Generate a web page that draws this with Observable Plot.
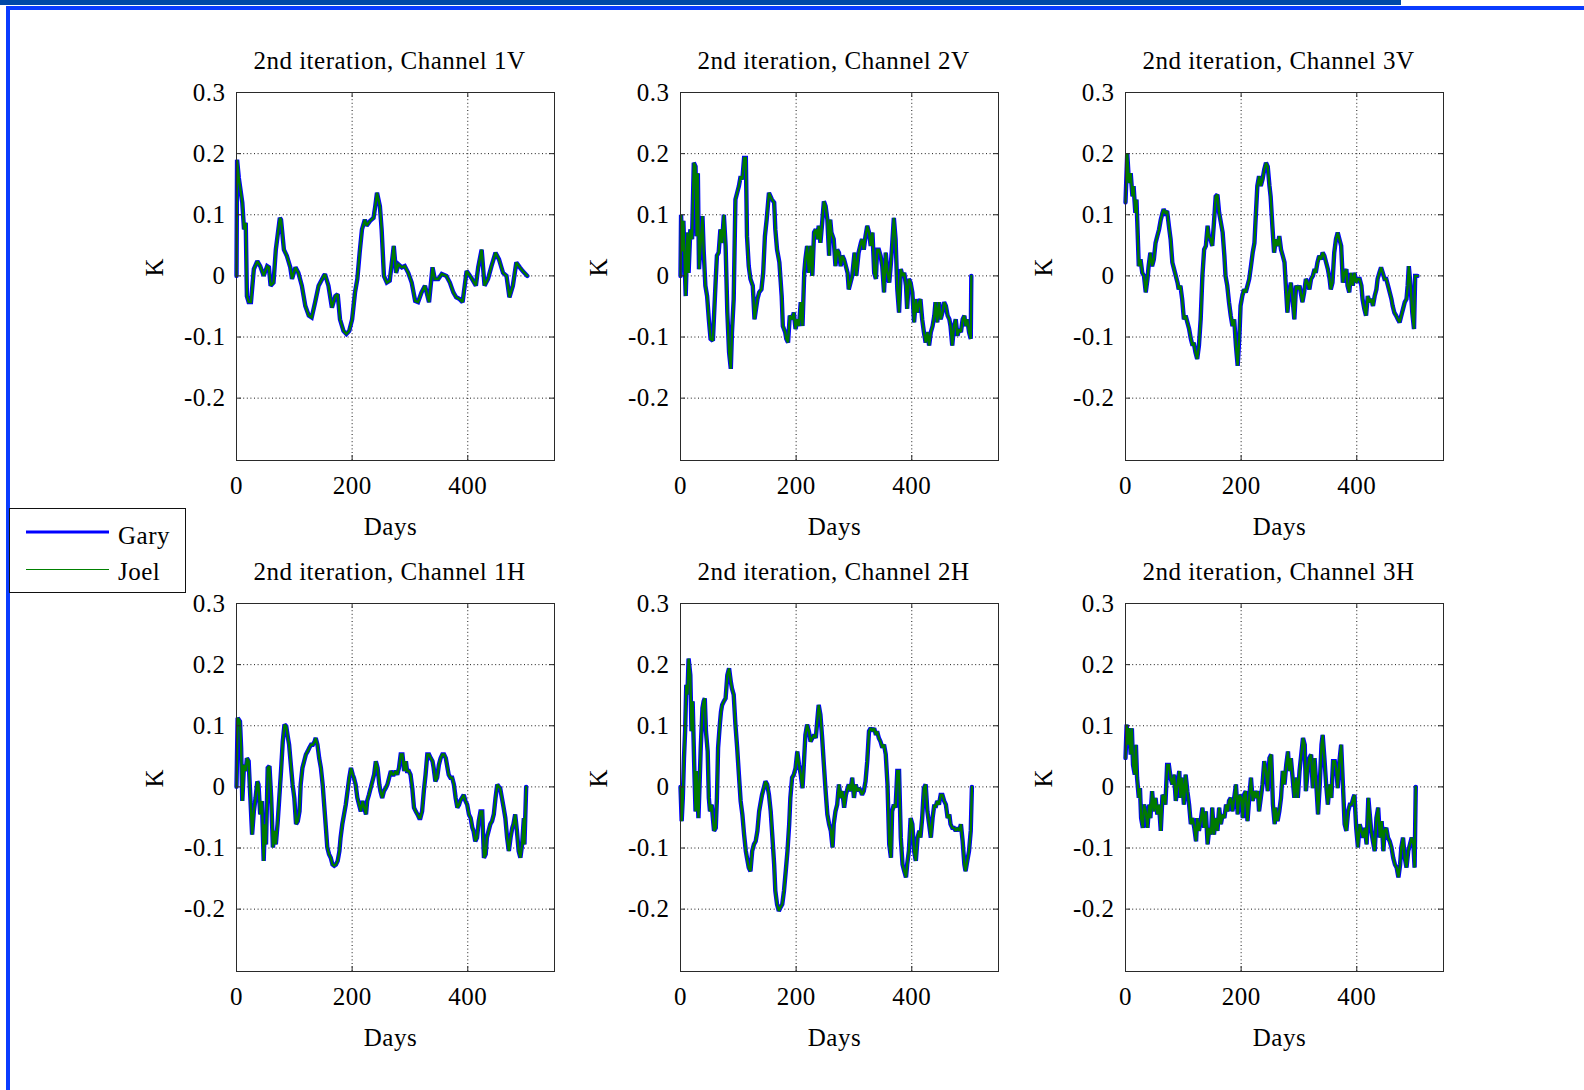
<!DOCTYPE html>
<html><head><meta charset="utf-8">
<script src="https://cdn.jsdelivr.net/npm/d3@7"></script>
<script src="https://cdn.jsdelivr.net/npm/@observablehq/plot@0.6"></script>
<style>
html,body{margin:0;padding:0;background:#fff;}
#page{position:relative;width:1584px;height:1090px;overflow:hidden;background:#fff;font-family:"Liberation Serif",serif;}
.panel{position:absolute;}
.bar1{position:absolute;left:0;top:0;width:1401px;height:5px;background:#0049a8;}
.bar2{position:absolute;left:6px;top:6px;right:0;height:4px;background:#0a3cff;}
.bar3{position:absolute;left:6px;top:6px;width:4px;bottom:0;background:#0a3cff;}
#legend{position:absolute;left:9px;top:508px;width:175px;height:83px;border:1px solid #111;background:#fff;}
</style></head><body><div id="page">
<div class="bar1"></div><div class="bar2"></div><div class="bar3"></div>
</div>
<script>
// ---- data: [day, K] (Gary and Joel traces coincide) ----
const ch1V = [[0,0],[1,0.19],[4,0.16],[10,0.12],[13,0.076],[16,0.087],[18,-0.033],[21,-0.043],[25,-0.043],[30,0.011],[36,0.024],[41,0.016],[47,0],[53,0.016],[56,0.014],[59,-0.016],[64,-0.011],[68,0.043],[75,0.095],[77,0.092],[82,0.043],[87,0.033],[93,0.014],[96,-0.005],[102,0.014],[107,0.005],[113,-0.016],[119,-0.049],[125,-0.065],[130,-0.068],[136,-0.043],[142,-0.016],[151,0],[153,0.003],[159,-0.016],[165,-0.052],[171,-0.033],[175,-0.03],[179,-0.071],[185,-0.09],[190,-0.095],[195,-0.09],[200,-0.071],[205,-0.027],[209,-0.005],[213,0.038],[217,0.076],[222,0.092],[225,0.082],[231,0.09],[237,0.095],[240,0.114],[243,0.136],[248,0.114],[251,0.076],[255,0],[260,-0.011],[265,-0.008],[268,0.016],[272,0.049],[276,0.005],[280,0.019],[286,0.014],[291,0.016],[297,0.005],[303,-0.011],[309,-0.041],[314,-0.043],[320,-0.027],[326,-0.016],[333,-0.043],[339,0.014],[343,-0.005],[349,-0.005],[355,0.003],[363,0],[369,-0.011],[375,-0.027],[380,-0.035],[386,-0.038],[391,-0.043],[398,0.008],[406,-0.003],[414,-0.016],[418,0.014],[424,0.043],[429,-0.016],[435,-0.005],[441,0.016],[448,0.038],[454,0.027],[461,0.005],[467,0],[472,-0.035],[478,-0.016],[484,0.022],[490,0.014],[495,0.008],[503,0]];
const ch2V = [[0,0],[1,0.1],[3,0.04],[5,0.09],[9,-0.033],[12,0.071],[14,0.005],[17,0.076],[20,0.06],[23,0.185],[26,0.179],[28,0.065],[30,0.168],[32,0.011],[35,0.054],[38,0.098],[40,0.043],[43,-0.016],[46,-0.033],[49,-0.071],[52,-0.103],[56,-0.106],[58,-0.065],[61,-0.005],[63,0.033],[66,0.038],[69,0.076],[72,0.054],[75,0.1],[78,0.049],[81,-0.06],[84,-0.125],[87,-0.152],[89,-0.092],[92,-0.038],[95,0.125],[98,0.136],[101,0.147],[104,0.163],[107,0.158],[110,0.193],[113,0.193],[115,0.065],[118,0.016],[121,-0.005],[125,-0.016],[128,-0.071],[133,-0.038],[136,-0.027],[140,-0.022],[143,0.005],[146,0.065],[149,0.092],[153,0.136],[158,0.125],[162,0.12],[164,0.076],[167,0.043],[171,0.022],[175,-0.033],[177,-0.082],[181,-0.092],[183,-0.103],[186,-0.109],[189,-0.065],[193,-0.071],[196,-0.06],[199,-0.087],[202,-0.071],[205,-0.082],[208,-0.043],[211,-0.082],[214,0.005],[216,0.027],[219,0.049],[222,0.005],[225,0.049],[228,0],[231,0.071],[234,0.076],[237,0.06],[239,0.082],[242,0.054],[245,0.087],[248,0.122],[251,0.114],[254,0.092],[257,0.033],[259,0.092],[261,0.071],[265,0.06],[268,0.016],[271,0.043],[274,0.038],[277,0.016],[280,0.033],[283,0.027],[286,0.016],[289,0.005],[291,-0.022],[294,-0.011],[297,0],[301,0.038],[304,0],[308,0.038],[312,0.054],[314,0.06],[317,0.043],[320,0.065],[323,0.082],[326,0.071],[329,0.049],[332,0.071],[335,0.005],[338,-0.005],[340,0.043],[343,0.043],[346,0.033],[349,0.016],[352,-0.027],[355,0.038],[358,0.005],[361,-0.011],[364,0.022],[366,0.049],[369,0.095],[372,0.06],[375,-0.022],[378,-0.06],[381,0.011],[384,0],[387,0.005],[390,-0.016],[392,-0.054],[395,-0.005],[398,-0.011],[401,-0.027],[404,-0.076],[407,-0.038],[410,-0.06],[413,-0.043],[415,-0.038],[418,-0.071],[421,-0.092],[424,-0.109],[427,-0.092],[430,-0.114],[433,-0.092],[436,-0.082],[439,-0.065],[441,-0.043],[444,-0.076],[447,-0.043],[450,-0.071],[453,-0.06],[456,-0.043],[459,-0.049],[462,-0.065],[465,-0.071],[467,-0.082],[470,-0.114],[473,-0.082],[476,-0.071],[479,-0.098],[482,-0.087],[485,-0.092],[488,-0.071],[491,-0.065],[493,-0.082],[496,-0.071],[499,-0.092],[502,-0.103],[503,0]];
const ch3V = [[0,0.12],[3,0.201],[6,0.152],[9,0.168],[12,0.13],[14,0.147],[17,0.103],[19,0.125],[21,0.071],[23,0.016],[26,0.027],[29,0.005],[32,0],[35,-0.027],[38,-0.005],[40,0.016],[43,0.038],[46,0.016],[49,0.027],[52,0.054],[55,0.065],[58,0.076],[61,0.092],[64,0.103],[66,0.109],[69,0.103],[72,0.106],[75,0.082],[78,0.06],[81,0.022],[84,0.011],[87,0],[90,-0.011],[92,-0.022],[95,-0.016],[98,-0.038],[101,-0.071],[104,-0.065],[107,-0.076],[110,-0.087],[113,-0.103],[116,-0.114],[118,-0.109],[121,-0.125],[124,-0.136],[127,-0.114],[130,-0.071],[133,0],[136,0.043],[139,0.049],[142,0.082],[144,0.065],[147,0.06],[150,0.049],[153,0.087],[156,0.13],[159,0.133],[162,0.103],[165,0.087],[168,0.071],[171,0.033],[173,0],[176,-0.016],[179,-0.043],[182,-0.065],[185,-0.082],[188,-0.071],[191,-0.114],[194,-0.147],[197,-0.098],[199,-0.049],[202,-0.033],[205,-0.022],[208,-0.027],[211,-0.016],[214,-0.005],[217,0.016],[220,0.038],[223,0.054],[225,0.092],[228,0.147],[231,0.163],[234,0.147],[237,0.158],[240,0.174],[243,0.185],[246,0.179],[249,0.147],[251,0.13],[254,0.082],[257,0.038],[260,0.06],[263,0.049],[266,0.065],[269,0.043],[272,0.033],[275,0.022],[277,-0.011],[280,-0.06],[283,-0.027],[286,-0.011],[289,-0.038],[292,-0.071],[295,-0.016],[298,-0.022],[301,-0.016],[303,-0.027],[306,-0.043],[309,-0.027],[312,-0.005],[315,-0.011],[318,-0.022],[321,-0.005],[324,0],[327,0.011],[329,0.005],[332,0.022],[335,0.033],[338,0.027],[341,0.038],[344,0.033],[347,0.022],[350,0.011],[353,-0.005],[355,-0.022],[358,-0.011],[361,0.038],[364,0.06],[367,0.071],[370,0.06],[373,0.049],[376,-0.011],[379,0.005],[382,0.011],[384,-0.016],[387,-0.027],[390,0.005],[393,-0.016],[396,0.005],[399,-0.011],[402,-0.005],[405,-0.005],[408,-0.016],[410,-0.038],[413,-0.054],[416,-0.065],[419,-0.033],[422,-0.043],[425,-0.038],[428,-0.049],[431,-0.033],[434,-0.022],[436,-0.005],[439,0.005],[442,0.014],[445,0.005],[448,-0.005],[451,-0.005],[454,-0.016],[457,-0.027],[460,-0.038],[462,-0.049],[465,-0.06],[468,-0.065],[471,-0.071],[474,-0.076],[477,-0.065],[480,-0.054],[483,-0.043],[486,-0.038],[488,-0.016],[490,0.016],[493,-0.016],[496,-0.06],[499,-0.087],[501,0],[505,0]];
const ch1H = [[0,0],[2,0.113],[6,0.107],[8,0.064],[10,-0.023],[13,0.036],[16,0.026],[18,0.047],[21,0.042],[24,-0.018],[27,-0.078],[30,-0.04],[33,-0.018],[36,0.009],[38,0.004],[41,-0.045],[44,-0.023],[47,-0.121],[49,-0.061],[51,-0.094],[54,0.031],[57,0.034],[60,-0.018],[63,-0.099],[66,-0.072],[68,-0.094],[71,-0.061],[74,-0.018],[77,0.026],[80,0.074],[83,0.102],[86,0.099],[89,0.08],[91,0.069],[94,0.036],[97,0.004],[100,-0.018],[103,-0.061],[106,-0.056],[109,-0.04],[111,0.004],[114,0.031],[117,0.042],[120,0.053],[123,0.058],[126,0.064],[129,0.069],[132,0.069],[135,0.074],[137,0.08],[140,0.069],[143,0.047],[146,0.031],[149,0.004],[152,-0.034],[155,-0.072],[157,-0.099],[160,-0.11],[163,-0.116],[166,-0.127],[169,-0.129],[172,-0.127],[175,-0.121],[178,-0.105],[180,-0.083],[183,-0.061],[186,-0.045],[189,-0.029],[192,-0.007],[195,0.015],[198,0.031],[201,0.02],[203,0.015],[206,0.004],[209,-0.018],[212,-0.029],[215,-0.04],[218,-0.023],[221,-0.034],[224,-0.045],[226,-0.023],[229,-0.013],[232,-0.002],[235,0.009],[238,0.02],[241,0.042],[244,0.031],[247,0.004],[249,-0.007],[252,-0.018],[255,-0.007],[258,-0.002],[261,0.004],[264,0.015],[267,0.026],[270,0.02],[272,0.02],[275,0.026],[278,0.02],[281,0.031],[284,0.053],[287,0.053],[290,0.026],[293,0.042],[295,0.026],[298,0.026],[301,0.02],[304,-0.002],[307,-0.034],[310,-0.04],[313,-0.045],[316,-0.051],[318,-0.051],[321,-0.04],[324,-0.007],[327,0.02],[330,0.053],[333,0.053],[336,0.047],[339,0.042],[341,0.031],[344,0.009],[347,0.015],[350,0.036],[353,0.047],[356,0.053],[359,0.053],[362,0.047],[364,0.036],[367,0.02],[370,0.015],[373,0.015],[376,0.004],[379,-0.018],[382,-0.034],[385,-0.029],[387,-0.023],[390,-0.018],[393,-0.013],[396,-0.023],[399,-0.029],[402,-0.045],[405,-0.051],[408,-0.067],[410,-0.072],[413,-0.089],[416,-0.083],[419,-0.056],[422,-0.04],[425,-0.04],[428,-0.116],[431,-0.11],[433,-0.083],[436,-0.072],[439,-0.061],[442,-0.056],[445,-0.045],[448,-0.018],[451,0.004],[453,0.001],[456,-0.002],[459,-0.018],[462,-0.034],[465,-0.051],[468,-0.083],[471,-0.105],[474,-0.083],[477,-0.067],[479,-0.061],[482,-0.045],[485,-0.072],[488,-0.105],[491,-0.116],[494,-0.094],[497,-0.051],[498,-0.094],[501,0]];
const ch2H = [[0,0],[2,-0.056],[4,-0.018],[6,0.047],[8,0.091],[10,0.167],[12,0.151],[14,0.21],[17,0.183],[19,0.091],[21,0.14],[24,0.026],[26,-0.04],[28,0.026],[31,-0.051],[33,0.004],[35,0.064],[38,0.129],[40,0.14],[42,0.145],[44,0.091],[47,0.058],[49,-0.018],[51,-0.04],[54,-0.029],[56,-0.051],[58,-0.072],[61,-0.067],[63,-0.018],[65,0.064],[68,0.102],[70,0.123],[72,0.134],[75,0.14],[78,0.145],[81,0.183],[84,0.194],[87,0.172],[89,0.161],[92,0.151],[95,0.102],[98,0.064],[101,0.02],[104,-0.023],[107,-0.045],[110,-0.078],[113,-0.105],[115,-0.116],[118,-0.132],[121,-0.138],[124,-0.105],[127,-0.094],[130,-0.089],[133,-0.072],[136,-0.04],[138,-0.029],[141,-0.013],[144,-0.002],[147,0.009],[150,0.004],[153,-0.013],[156,-0.04],[159,-0.083],[162,-0.127],[164,-0.17],[167,-0.192],[170,-0.203],[173,-0.197],[176,-0.192],[179,-0.17],[182,-0.138],[185,-0.105],[188,-0.061],[190,-0.018],[193,0.015],[196,0.02],[199,0.031],[202,0.058],[205,0.036],[208,0.02],[211,-0.002],[213,0.031],[216,0.085],[219,0.102],[222,0.091],[225,0.074],[228,0.08],[231,0.085],[234,0.08],[237,0.113],[239,0.134],[242,0.118],[245,0.08],[248,0.036],[251,-0.007],[254,-0.045],[257,-0.061],[260,-0.072],[263,-0.099],[265,-0.061],[268,-0.04],[271,-0.029],[274,0.004],[277,-0.018],[280,-0.007],[283,-0.034],[286,-0.013],[289,-0.002],[291,0.004],[294,-0.007],[297,0.015],[300,-0.018],[303,0.004],[306,-0.007],[309,-0.002],[312,-0.007],[314,-0.013],[317,-0.007],[320,0.009],[323,0.042],[326,0.091],[329,0.096],[332,0.091],[335,0.096],[338,0.085],[340,0.091],[343,0.08],[346,0.074],[349,0.064],[352,0.069],[355,0.053],[358,0.004],[361,-0.094],[364,-0.116],[366,-0.04],[369,-0.029],[372,-0.034],[375,0.026],[378,0.026],[381,-0.083],[384,-0.127],[387,-0.138],[390,-0.148],[392,-0.127],[395,-0.105],[398,-0.051],[401,-0.061],[404,-0.105],[407,-0.121],[410,-0.083],[413,-0.072],[415,-0.083],[418,-0.051],[421,-0.002],[424,0.004],[427,-0.04],[430,-0.061],[433,-0.083],[436,-0.051],[439,-0.029],[441,-0.034],[444,-0.023],[447,-0.029],[450,-0.013],[453,-0.013],[456,-0.023],[459,-0.029],[462,-0.051],[465,-0.045],[467,-0.061],[470,-0.067],[473,-0.067],[476,-0.072],[479,-0.067],[482,-0.072],[485,-0.061],[488,-0.089],[491,-0.127],[493,-0.138],[496,-0.121],[499,-0.105],[502,-0.072],[504,0]];
const ch3H = [[0,0.047],[2,0.102],[4,0.069],[6,0.096],[9,0.053],[11,0.096],[13,0.036],[16,0.02],[18,0.069],[20,0.015],[23,-0.018],[25,-0.002],[27,-0.051],[30,-0.067],[32,-0.029],[35,-0.04],[38,-0.067],[41,-0.029],[43,-0.051],[46,-0.007],[49,-0.04],[52,-0.018],[55,-0.045],[58,-0.029],[61,-0.072],[64,-0.013],[67,-0.018],[69,-0.029],[72,0.036],[75,0.036],[78,0.015],[81,0.004],[84,0.02],[87,-0.023],[90,0.004],[93,0.026],[95,-0.018],[98,0.015],[101,-0.029],[104,0.02],[107,-0.007],[110,-0.029],[113,-0.061],[116,-0.051],[119,-0.067],[122,-0.089],[124,-0.051],[127,-0.072],[130,-0.056],[133,-0.034],[136,-0.067],[139,-0.04],[142,-0.094],[145,-0.067],[148,-0.078],[150,-0.034],[153,-0.078],[156,-0.051],[159,-0.072],[162,-0.034],[165,-0.061],[168,-0.045],[171,-0.051],[174,-0.029],[177,-0.04],[179,-0.023],[182,-0.018],[185,-0.04],[188,-0.018],[191,0.004],[194,-0.045],[197,-0.013],[200,-0.018],[203,-0.051],[205,-0.013],[208,-0.007],[211,-0.056],[214,-0.018],[217,0.015],[220,-0.023],[223,-0.007],[226,-0.018],[229,-0.007],[231,-0.04],[234,-0.018],[237,0.004],[240,0.042],[243,0.026],[246,-0.007],[249,0.047],[252,0.053],[255,-0.029],[258,-0.061],[260,-0.034],[263,-0.056],[266,-0.04],[269,-0.018],[272,0.026],[275,0.004],[278,0.036],[281,0.058],[283,0.026],[286,0.047],[289,0.015],[292,-0.018],[295,0.015],[298,-0.018],[301,0.026],[304,0.053],[307,0.08],[310,0.069],[312,-0.007],[315,0.026],[318,0.047],[321,0.053],[324,-0.002],[327,0.047],[330,0.004],[333,-0.045],[336,0.004],[339,0.069],[341,0.085],[344,0.047],[347,0.004],[350,-0.029],[353,0.004],[356,-0.018],[359,0.042],[362,0.042],[365,0.026],[367,-0.002],[370,0.042],[373,0.069],[376,0.004],[379,-0.061],[382,-0.072],[385,-0.04],[388,-0.029],[391,-0.029],[394,-0.018],[396,-0.013],[399,-0.067],[402,-0.099],[405,-0.061],[408,-0.072],[411,-0.083],[414,-0.067],[417,-0.094],[420,-0.018],[422,-0.04],[425,-0.072],[428,-0.089],[431,-0.105],[434,-0.051],[437,-0.034],[440,-0.083],[443,-0.056],[446,-0.105],[448,-0.072],[451,-0.067],[454,-0.083],[457,-0.089],[460,-0.099],[463,-0.116],[466,-0.127],[469,-0.132],[472,-0.148],[475,-0.127],[477,-0.099],[480,-0.083],[483,-0.116],[486,-0.132],[489,-0.105],[492,-0.094],[495,-0.083],[498,-0.094],[500,-0.132],[502,0]];

const titles = ["2nd iteration, Channel 1V","2nd iteration, Channel 2V","2nd iteration, Channel 3V",
                "2nd iteration, Channel 1H","2nd iteration, Channel 2H","2nd iteration, Channel 3H"];
const garySeries = [ch1V, ch2V, ch3V, ch1H, ch2H, ch3H];
const joelSeries = [ch1V, ch2V, ch3V, ch1H, ch2H, ch3H]; // visually identical to Gary
const xTicks = [0, 200, 400];
const yTicks = [-0.2, -0.1, 0, 0.1, 0.2, 0.3];
const xGrid = [200, 400];
const yGrid = [-0.2, -0.1, 0, 0.1, 0.2];
const xDomain = [0, 550];
const yDomain = [-0.302, 0.3];
const seriesNames = ["Gary", "Joel"];

// ---- layout ----
const W = 318, H = 368, mL = 110, mR = 12, mT = 60, mB = 90;
const colLeft = [236, 680, 1125], rowTop = [92, 603];
const fmtY = d => d === 0 ? "0" : d.toFixed(1);
const FONT = '"Liberation Serif", "Times New Roman", serif';
const page = document.getElementById("page");

garySeries.forEach((gary, i) => {
  const joel = joelSeries[i];
  const svg = Plot.plot({
    width: mL + W + mR, height: mT + H + mB,
    marginLeft: mL, marginRight: mR, marginTop: mT, marginBottom: mB,
    style: {fontFamily: FONT, fontSize: "25px", color: "#000", background: "transparent", overflow: "visible", letterSpacing: "0.5px"},
    x: {domain: xDomain},
    y: {domain: yDomain},
    marks: [
      Plot.gridY(yGrid, {stroke: "#000", strokeOpacity: 0.9, strokeDasharray: "1,2.6", strokeWidth: 1}),
      Plot.gridX(xGrid, {stroke: "#000", strokeOpacity: 0.9, strokeDasharray: "1,2.6", strokeWidth: 1}),
      Plot.line(gary, {x: d => d[0], y: d => d[1], stroke: "#0000ff", strokeWidth: 4.4, strokeLinejoin: "miter", strokeMiterlimit: 2}),
      Plot.line(joel, {x: d => d[0], y: d => d[1], stroke: "#007a00", strokeWidth: 2.4, strokeLinejoin: "miter", strokeMiterlimit: 2}),
      Plot.frame({stroke: "#2a2a2a", strokeWidth: 1}),
      Plot.tickY(yTicks, {y: d => d, insetRight: W - 5, stroke: "#2a2a2a"}),
      Plot.tickY(yTicks, {y: d => d, insetLeft: W - 5, stroke: "#2a2a2a"}),
      Plot.tickX(xTicks, {x: d => d, insetTop: H - 5, stroke: "#2a2a2a"}),
      Plot.tickX(xTicks, {x: d => d, insetBottom: H - 5, stroke: "#2a2a2a"}),
      Plot.axisY(yTicks, {tickSize: 0, tickPadding: 11, tickFormat: fmtY, label: null, fontSize: 25, fill: "#000"}),
      Plot.axisX(xTicks, {tickSize: 0, tickPadding: 16, tickFormat: d => String(d), label: null, fontSize: 25, fill: "#000"}),
      Plot.text([titles[i]], {frameAnchor: "top", dy: -24, dx: -6, lineAnchor: "bottom", fontSize: 25, fill: "#000"}),
      Plot.text(["Days"], {frameAnchor: "bottom", dy: 74, dx: -5, lineAnchor: "bottom", fontSize: 25, fill: "#000"}),
      Plot.text(["K"], {frameAnchor: "left", dx: -82, rotate: -90, fontSize: 25, fill: "#000"})
    ]
  });
  const wrap = document.createElement("div");
  wrap.className = "panel";
  wrap.style.left = (colLeft[i % 3] - mL) + "px";
  wrap.style.top = (rowTop[Math.floor(i / 3)] - mT) + "px";
  wrap.appendChild(svg);
  page.appendChild(wrap);
});

// ---- legend ----
const leg = document.createElement("div");
leg.id = "legend";
leg.innerHTML = `<svg width="175" height="83" style="font-family:${FONT.replace(/"/g,"'")};font-size:25px;letter-spacing:0.5px">
  <line x1="16" x2="99" y1="23" y2="23" stroke="#0000ff" stroke-width="3.2"/>
  <text x="108" y="35" fill="#000">${seriesNames[0]}</text>
  <line x1="16" x2="99" y1="60.5" y2="60.5" stroke="#008000" stroke-width="1.2"/>
  <text x="108" y="71" fill="#000">${seriesNames[1]}</text>
</svg>`;
page.appendChild(leg);
</script>
</body></html>
